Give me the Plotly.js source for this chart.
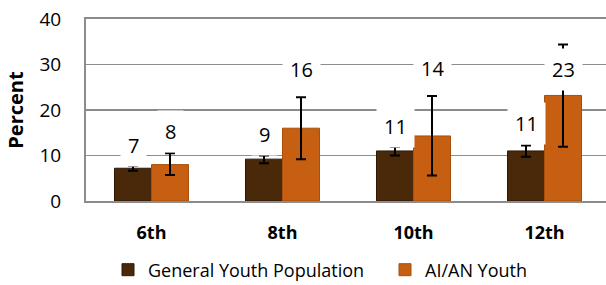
<!DOCTYPE html>
<html>
<head>
<meta charset="utf-8">
<script src="https://cdn.plot.ly/plotly-3.0.1.min.js"></script>
<style>
  html, body { margin: 0; padding: 0; overflow: hidden; background: #fff; }
  #chart { width: 612px; height: 285px; }
</style>
</head>
<body>
<div id="chart"></div>
<script>
// ---- data ----
const grades = ['6th', '8th', '10th', '12th'];
const generalValues = [7.2, 9.2, 11.0, 11.0];
const generalUpper = [7.75, 10.0, 11.9, 12.2];
const generalLower = [6.65, 8.3, 10.0, 9.7];
const aianValues = [8.0, 16.0, 14.3, 23.2];
const aianUpper = [10.5, 22.8, 23.1, 34.4];
const aianLower = [5.7, 9.2, 5.6, 11.9];
const seriesNames = ['General Youth Population', 'AI/AN Youth'];

// ---- style / placement (not data) ----
const FONT = 'Open Sans, sans-serif';
const colors = ['#4a290b', '#c65f12'];
const lineColors = ['#2e1804', '#a84f0c'];
const labelY = [[12.2, 14.7, 16.4, 17.0], [15.2, 28.8, 29.1, 28.8]];
const legendX = [108, 385];
const BARGAP = 0.435;
const W = 612, H = 285;

function mk(i, vals, up, lo) {
  return {
    type: 'bar',
    name: seriesNames[i],
    legend: i === 0 ? 'legend' : 'legend2',
    x: grades,
    y: vals,
    marker: { color: colors[i], line: { color: lineColors[i], width: 1 } },
    error_y: {
      type: 'data', symmetric: false,
      array: up.map((u, k) => u - vals[k]),
      arrayminus: vals.map((v, k) => v - lo[k]),
      color: '#000', thickness: 2, width: 5
    },
    hoverinfo: 'skip'
  };
}

const traces = [
  mk(0, generalValues, generalUpper, generalLower),
  mk(1, aianValues, aianUpper, aianLower)
];

const halfBar = (1 - BARGAP) / 4;
const annotations = [];
[generalValues, aianValues].forEach((vals, s) => {
  vals.forEach((v, k) => {
    annotations.push({
      x: k + (s === 0 ? -halfBar : halfBar), xref: 'x',
      y: labelY[s][k], yref: 'y',
      text: String(Math.round(v)),
      showarrow: false,
      bgcolor: '#ffffff',
      borderpad: 7,
      font: { family: FONT, size: 20, color: '#000' }
    });
  });
});

function leg(i) {
  return {
    orientation: 'h', xref: 'container', yref: 'container',
    x: legendX[i] / W, xanchor: 'left', y: 1 - 270 / H, yanchor: 'middle',
    font: { family: FONT, size: 18, color: '#000' },
    bgcolor: 'rgba(0,0,0,0)'
  };
}

const layout = {
  width: W, height: H,
  margin: { l: 86, r: 2, t: 19, b: 84, autoexpand: false },
  paper_bgcolor: '#fff', plot_bgcolor: '#fff',
  barmode: 'group', bargap: BARGAP, bargroupgap: 0,
  font: { family: FONT, color: '#000' },
  showlegend: true,
  legend: leg(0),
  legend2: leg(1),
  xaxis: {
    type: 'category', range: [-0.5, 3.5],
    showline: true, linecolor: '#8c8c8c', linewidth: 2, mirror: true,
    ticks: '', ticklabelstandoff: 14,
    tickfont: { family: FONT, size: 18, color: '#000', weight: 'bold' },
    fixedrange: true
  },
  yaxis: {
    range: [0, 40], dtick: 10, tick0: 0,
    showline: true, linecolor: '#8c8c8c', linewidth: 2,
    showgrid: true, gridcolor: '#8c8c8c', gridwidth: 1.5,
    zeroline: false,
    ticks: '', ticklabelstandoff: 19,
    tickfont: { family: FONT, size: 19, color: '#000' },
    title: { text: 'Percent', standoff: 10, font: { family: FONT, size: 20, color: '#000', weight: 'bold' } },
    fixedrange: true
  },
  annotations: annotations
};

Plotly.newPlot('chart', traces, layout, { displayModeBar: false, staticPlot: true });
</script>
</body>
</html>
